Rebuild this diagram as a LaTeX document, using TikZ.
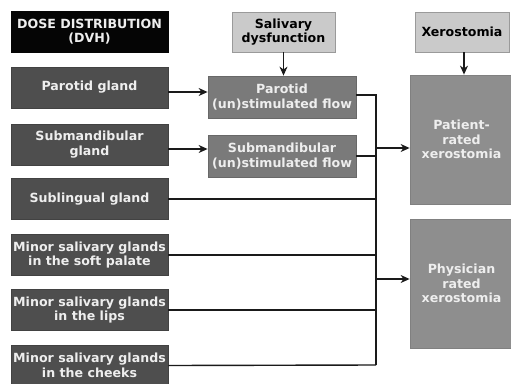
\documentclass[tikz,border=0pt]{standalone}
\usepackage{fontspec}
\setmainfont{DejaVu Sans}
\usetikzlibrary{arrows.meta}
\definecolor{doseblack}{HTML}{050505}
\definecolor{glandgray}{HTML}{4E4E4E}
\definecolor{flowgray}{HTML}{7A7A7A}
\definecolor{rategray}{HTML}{8E8E8E}
\definecolor{headgray}{HTML}{CACACA}
\definecolor{headborder}{HTML}{9A9A9A}
\definecolor{lighttext}{HTML}{EEEEEE}
\definecolor{linecol}{HTML}{1A1A1A}
\begin{document}
\begin{tikzpicture}[x=1pt,y=-1pt,
  box/.style={rectangle, inner sep=0pt, align=center, font=\fontsize{12.6}{14.5}\selectfont\bfseries},
  gland/.style={box, fill=glandgray, draw=glandgray!85!black, line width=0.8pt, text=lighttext, minimum width=157pt, minimum height=41pt},
  dosebox/.style={gland, fill=doseblack, draw=doseblack},
  flowbox/.style={box, fill=flowgray, draw=flowgray!85!black, line width=0.8pt, text=lighttext, minimum width=148pt, minimum height=42pt},
  headbox/.style={box, fill=headgray, draw=headborder, line width=0.8pt, text=black, minimum height=40pt},
  ratebox/.style={box, fill=rategray, draw=rategray!90!black, line width=0.8pt, text=lighttext, minimum width=103pt, minimum height=129pt},
  arr/.style={draw=linecol, line width=1.1pt, -{Stealth[length=9pt,width=8pt]}},
  busline/.style={draw=linecol, line width=1.4pt}
]
\useasboundingbox (0,0) rectangle (511,383);
\fill[white] (0,0) rectangle (511,383);

% left column
\node[dosebox] (dose) at (89.5,31.5) {DOSE DISTRIBUTION\\(DVH)};
\node[gland] (parotid) at (89.5,87.5) {Parotid gland};
\node[gland] (submand) at (89.5,144.5) {Submandibular\\gland};
\node[gland] (subling) at (89.5,199) {Sublingual gland};
\node[gland] (palate) at (89.5,255) {Minor salivary glands\\in the soft palate};
\node[gland] (lips) at (89.5,310) {Minor salivary glands\\in the lips};
\node[gland] (cheeks) at (89.5,365.5) {Minor salivary glands\\in the cheeks};

% middle column
\node[headbox, minimum width=103pt] (saliv) at (283.5,32) {Salivary\\dysfunction};
\node[flowbox] (pflow) at (282,97) {Parotid\\(un)stimulated flow};
\node[flowbox] (sflow) at (282,156) {Submandibular\\(un)stimulated flow};

% right column
\node[headbox, minimum width=94pt] (xero) at (462,32) {Xerostomia};
\node[ratebox] (patient) at (461.5,139.5) {Patient-\\rated\\xerostomia};
\node[ratebox] (physician) at (461.5,283.5) {Physician\\rated\\xerostomia};

% bus
\coordinate (bustop) at (376,95);
\coordinate (busbot) at (376,365);

% arrows
\draw[arr] (saliv.south) -- (pflow.north -| saliv.south);
\draw[arr] (xero.south -| 464,0) -- (patient.north -| 464,0);
\draw[arr] (parotid.east |- 0,92) -- (pflow.west |- 0,92);
\draw[arr] (submand.east |- 0,149) -- (sflow.west |- 0,149);

% connectors to bus
\draw[busline] (pflow.east |- bustop) -- (bustop) -- (busbot);
\draw[busline] (sflow.east) -- (sflow.east -| bustop);
\draw[busline] (subling.east) -- (subling.east -| bustop);
\draw[busline] (palate.east) -- (palate.east -| bustop);
\draw[busline] (lips.east) -- (lips.east -| bustop);
\draw[busline] (cheeks.east) -- (busbot);

\draw[arr] (bustop |- 0,148) -- (patient.west |- 0,148);
\draw[arr] (bustop |- 0,279) -- (physician.west |- 0,279);
\end{tikzpicture}
\end{document}
